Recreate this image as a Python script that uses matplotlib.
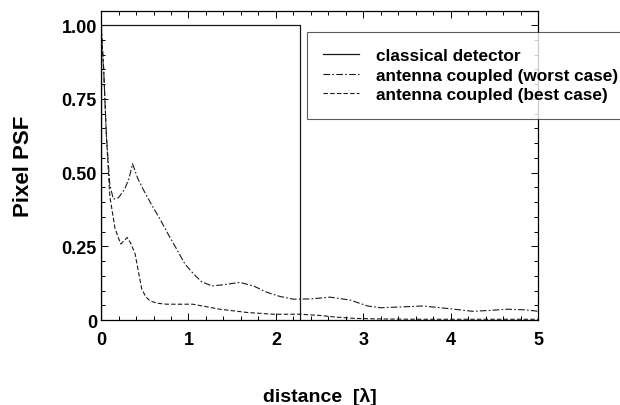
import matplotlib
matplotlib.use('Agg')
import matplotlib.pyplot as plt
from matplotlib.ticker import MultipleLocator, FixedLocator

plt.rcParams['font.family'] = ['Liberation Sans', 'DejaVu Sans']
plt.rcParams['font.weight'] = 'bold'

# classical detector: flat pixel response
classic_x = [0.0, 0.0, 2.28, 2.28]
classic_y = [0.0, 1.0, 1.0, 0.0]

# antenna coupled, worst case
worst_x = [0.0, 0.03, 0.06, 0.1, 0.14, 0.2, 0.27, 0.32, 0.36, 0.42, 0.48, 0.58, 0.675, 0.77, 0.866,
           0.96, 1.06, 1.15, 1.27, 1.4, 1.59, 1.75, 1.9, 2.05, 2.2, 2.4, 2.62, 2.85, 3.05, 3.2, 3.45,
           3.68, 3.95, 4.25, 4.45, 4.65, 4.85, 5.0]
worst_y = [1.0, 0.85, 0.63, 0.46, 0.41, 0.415, 0.444, 0.48, 0.53, 0.48, 0.444, 0.39, 0.342, 0.29, 0.24,
           0.19, 0.156, 0.13, 0.116, 0.12, 0.128, 0.115, 0.094, 0.08, 0.071, 0.072, 0.078, 0.068, 0.048,
           0.042, 0.045, 0.048, 0.04, 0.03, 0.033, 0.037, 0.035, 0.03]

# antenna coupled, best case
best_x = [0.0, 0.03, 0.06, 0.1, 0.16, 0.225, 0.3, 0.34, 0.39, 0.43, 0.466, 0.51, 0.56, 0.65, 0.75,
          1.05, 1.36, 1.67, 1.97, 2.28, 2.5, 2.7, 2.9, 3.2, 3.6, 4.0, 4.5, 5.0]
best_y = [1.0, 0.85, 0.63, 0.42, 0.31, 0.258, 0.28, 0.26, 0.224, 0.16, 0.105, 0.08, 0.065, 0.057, 0.054,
          0.054, 0.037, 0.026, 0.02, 0.02, 0.016, 0.01, 0.006, 0.004, 0.003, 0.003, 0.003, 0.003]

fig = plt.figure(figsize=(6.2, 4.06), dpi=100)
ax = fig.add_axes([0.163, 0.209, 0.705, 0.761])

lc = '0.1'
ax.plot(classic_x, classic_y, color=lc, lw=0.9, label='classical detector')
ax.plot(worst_x, worst_y, color=lc, lw=0.8, dashes=(6, 2, 1.5, 2), label='antenna coupled (worst case)')
ax.plot(best_x, best_y, color=lc, lw=0.8, dashes=(4, 2), label='antenna coupled (best case)')

ax.set_xlim(0, 5)
ax.set_ylim(0, 1.047)
ax.xaxis.set_major_locator(MultipleLocator(1))
ax.xaxis.set_minor_locator(MultipleLocator(0.2))
ax.yaxis.set_major_locator(FixedLocator([0, 0.25, 0.5, 0.75, 1.0]))
ax.yaxis.set_minor_locator(MultipleLocator(0.05))
ax.set_yticklabels(['0', '0.25', '0.50', '0.75', '1.00'])
ax.tick_params(which='both', direction='in', top=True, right=True, width=0.7)
ax.tick_params(which='major', length=5, labelsize=13)
ax.tick_params(axis='x', which='major', pad=8)
ax.tick_params(axis='y', which='major', pad=3)
ax.tick_params(which='minor', length=3)
for s in ax.spines.values():
    s.set_linewidth(0.9)

ax.set_xlabel('distance  [\u03bb]', fontsize=14, fontweight='bold', labelpad=28)
ax.set_ylabel('Pixel PSF', fontsize=16, fontweight='bold', labelpad=20)

leg = ax.legend(loc='upper left', bbox_to_anchor=(0.495, 0.919), bbox_transform=fig.transFigure,
                fontsize=12.4, frameon=True, fancybox=False, handlelength=2.1, handletextpad=0.95,
                borderpad=0.95, labelspacing=0.26, borderaxespad=0)
leg.get_frame().set_edgecolor('0.2')
leg.get_frame().set_linewidth(0.8)
for t in leg.get_texts():
    t.set_fontweight('bold')

fig.savefig('out.png', dpi=100)
